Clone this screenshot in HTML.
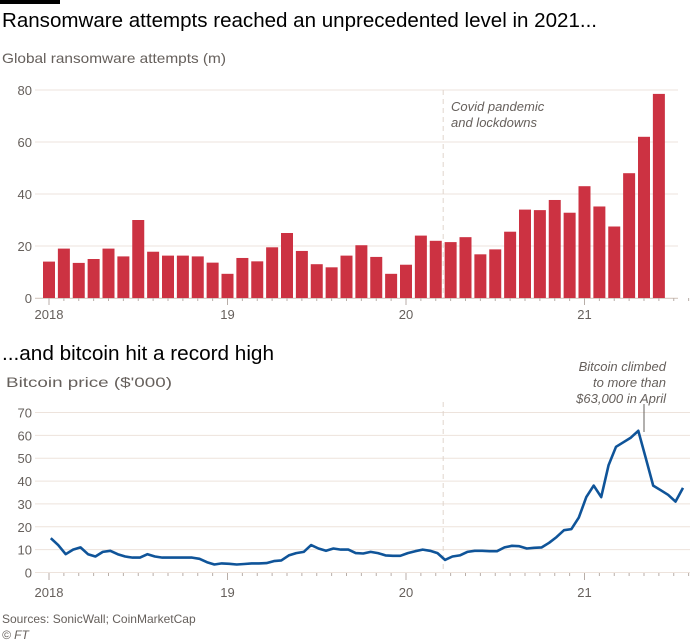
<!DOCTYPE html>
<html><head><meta charset="utf-8">
<style>
html,body{margin:0;padding:0;background:#fff;}
svg{display:block;font-family:"Liberation Sans",sans-serif;}
.tick{font-size:13px;fill:#66605c;}
.grid{stroke:#ede3dc;stroke-width:1;}
</style></head>
<body>
<svg id="chart" width="700" height="642" viewBox="0 0 700 642" xmlns="http://www.w3.org/2000/svg">
<rect x="0" y="0" width="60" height="4" fill="#000"/>
<text x="2" y="27" font-size="20" fill="#000" textLength="595" lengthAdjust="spacingAndGlyphs">Ransomware attempts reached an unprecedented level in 2021...</text>
<text x="2" y="63" font-size="14" fill="#66605c" textLength="224" lengthAdjust="spacingAndGlyphs">Global ransomware attempts (m)</text>
<g id="topchart"></g>
<text x="2" y="360" font-size="20" fill="#000" textLength="272" lengthAdjust="spacingAndGlyphs">...and bitcoin hit a record high</text>
<text x="6" y="387" font-size="14" fill="#66605c" textLength="166" lengthAdjust="spacingAndGlyphs">Bitcoin price ($'000)</text>
<g id="bottomchart"></g>
<text x="2" y="623" font-size="12" fill="#66605c">Sources: SonicWall; CoinMarketCap</text>
<text x="2" y="639" font-size="12" fill="#66605c" font-style="italic">© FT</text>
</svg>
<script>
const ransomMonths = 42; // Jan 2018 .. Jun 2021
const ransomValues = [14,19,13.5,15,19,16,30,17.8,16.3,16.3,16,13.6,
 9.3,15.4,14.1,19.5,25,18.1,13,11.8,16.3,20.3,15.8,9.3,
 12.8,24,22,21.5,23.4,16.8,18.7,25.5,34,33.8,37.7,32.8,
 43,35.2,27.5,48,62,78.5];
const ransomTicks = [0,20,40,60,80];
const yearLabels = ["2018","19","20","21"];
const btcValues = [15,12, 8,10, 11,8, 7,9, 9.5,8, 7,6.5, 6.5,8, 7,6.5, 6.5,6.5, 6.5,6.5, 6,4.5, 3.5,4,
 3.8,3.5, 3.7,4, 4,4.1, 5,5.3, 7.5,8.5, 9,12, 10.5,9.5, 10.5,10, 10,8.5, 8.3,9, 8.5,7.5, 7.3,7.3,
 8.5,9.3, 10,9.5, 8.5,5.5, 7,7.5, 9,9.5, 9.5,9.3, 9.3,11, 11.7,11.5, 10.5,10.8, 11,13, 15.5,18.5, 19,24,
 33,38, 33,47, 55,57, 59,62, 50,38, 36,34, 31,37];
const btcTicks = [0,10,20,30,40,50,60,70];

const NS="http://www.w3.org/2000/svg";
function mk(parent,tag,attrs){const e=document.createElementNS(NS,tag);for(const k in attrs)e.setAttribute(k,attrs[k]);parent.appendChild(e);return e;}
const x2018=49, pxYear=178.5;
const xTime = t => x2018 + t*pxYear;

const topG=document.getElementById('topchart');
const yTop = v => 298 - v*(208/80);
ransomTicks.forEach(v=>{
  const g=mk(topG,'line',{x1:35,x2:678,y1:yTop(v),y2:yTop(v),class:'grid'});
  
  
  const t=mk(topG,'text',{x:32,y:yTop(v)+5,'text-anchor':'end',class:'tick'});
  t.textContent=v;
  
  
});
const cov=mk(topG,'line',{x1:xTime(2+2.5/12),x2:xTime(2+2.5/12),y1:90,y2:298,stroke:'#e0d4cc','stroke-dasharray':'5,4'});


['Covid pandemic','and lockdowns'].forEach((s,i)=>{
  const t=mk(topG,'text',{x:451,y:111+i*16,'font-size':13,'font-style':'italic',fill:'#66605c'});
  t.textContent=s;
  
  
});
ransomValues.forEach((v,i)=>{
  const cx=xTime(i/12);
  const r=mk(topG,'rect',{x:cx-6,y:yTop(v),width:12,height:298-yTop(v),fill:'#cc3242'});
  
  
});
mk(topG,'line',{x1:35,x2:678,y1:298.5,y2:298.5,stroke:'#d9cfc8'});
for(let m=0;m<=43;m++){
  const x=xTime(m/12);
  mk(topG,'line',{x1:x,x2:x,y1:298,y2:m%12==0?305:301,stroke:'#b8aea8'});
}
yearLabels.forEach((s,i)=>{
  const t=mk(topG,'text',{x:xTime(i),y:319,'text-anchor':'middle',class:'tick'});
  t.textContent=s;
  
  
});

const botG=document.getElementById('bottomchart');
const yBot = v => 572.5 - v*(160/70);
btcTicks.forEach(v=>{
  const g=mk(botG,'line',{x1:35,x2:690,y1:yBot(v),y2:yBot(v),class:'grid'});
  
  
  const t=mk(botG,'text',{x:32,y:yBot(v)+5,'text-anchor':'end',class:'tick'});
  t.textContent=v;
  
  
});
const cov2=mk(botG,'line',{x1:xTime(2+2.5/12),x2:xTime(2+2.5/12),y1:402,y2:573,stroke:'#e0d4cc','stroke-dasharray':'5,4'});


for(let m=0;m<=43;m++){
  const x=xTime(m/12);
  mk(botG,'line',{x1:x,x2:x,y1:573,y2:m%12==0?580:576,stroke:'#b8aea8'});
}
yearLabels.forEach((s,i)=>{
  const t=mk(botG,'text',{x:xTime(i),y:597,'text-anchor':'middle',class:'tick'});
  t.textContent=s;
  
  
});
let d='';
btcValues.forEach((v,i)=>{
  const x=xTime(i/24 + 0.01);
  d+=(i?'L':'M')+x.toFixed(1)+' '+yBot(v).toFixed(1);
});
const p=mk(botG,'path',{d:d,fill:'none',stroke:'#0f5499','stroke-width':2.6,'stroke-linejoin':'round'});


const lead=mk(botG,'line',{x1:644,x2:644,y1:404,y2:432,stroke:'#66605c'});


['Bitcoin climbed','to more than','$63,000 in April'].forEach((s,i)=>{
  const t=mk(botG,'text',{x:666,y:371+i*16,'text-anchor':'end','font-size':13,'font-style':'italic',fill:'#66605c'});
  t.textContent=s;
  
  
});
</script>
</body></html>
